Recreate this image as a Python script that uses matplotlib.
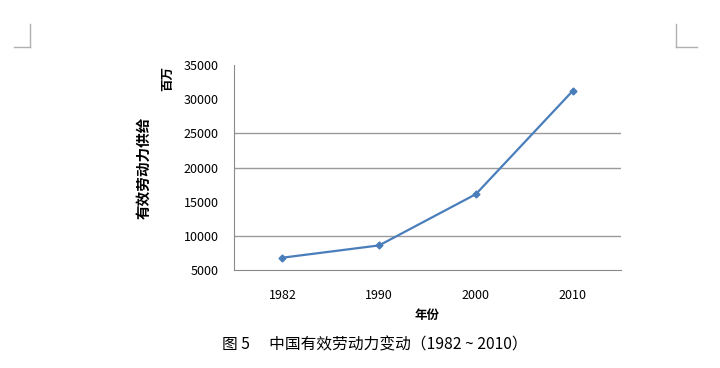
import numpy as np
import matplotlib.pyplot as plt
from matplotlib.lines import Line2D

plt.rcParams['font.family'] = ['Noto Sans CJK SC', 'DejaVu Sans']

# 数据
years = ['1982', '1990', '2000', '2010']
labor = [6800, 8600, 16100, 31200]
yticks = [5000, 10000, 15000, 20000, 25000, 30000, 35000]
grid_vals = [10000, 20000, 25000]  # 原图中可见的网格线

fig = plt.figure(figsize=(7.2, 3.68), dpi=100)
ax = fig.add_axes([0.325, 0.2663, 0.5375, 0.557])

x = np.arange(len(years))
for g in grid_vals:
    ax.axhline(g, color='#9a9a9a', lw=1.0, zorder=1)
ax.plot(x, labor, color='#4a7ebb', lw=1.6, marker='D', ms=3.5, zorder=3)

ax.set_xlim(-0.5, 3.5)
ax.set_ylim(5000, 35000)
ax.set_yticks(yticks)
ax.set_yticklabels([str(v) for v in yticks], fontsize=9)
ax.set_xticks(x)
ax.set_xticklabels(years, fontsize=9)
ax.tick_params(axis='y', length=0, pad=11)
ax.tick_params(axis='x', length=0, pad=14)
# 只在1982和2000处有刻度线
ax.set_xticks([0, 2], minor=True)
ax.tick_params(axis='x', which='minor', length=4, color='#8a8a8a')

for s in ['top', 'right']:
    ax.spines[s].set_visible(False)
for s in ['left', 'bottom']:
    ax.spines[s].set_color('#8a8a8a')

ax.set_xlabel('年份', fontsize=9, fontweight='bold', labelpad=5)
fig.text(0.199, 0.543, '有效劳动力供给', rotation=90, ha='center', va='center',
         fontsize=10.5, fontweight='bold')
fig.text(0.233, 0.788, '百万', rotation=90, ha='center', va='center',
         fontsize=9, fontweight='bold')

fig.text(0.52, 0.062, '图 5　 中国有效劳动力变动（1982 ~ 2010）', ha='center', va='center',
         fontsize=11.3)

# 页面角标
c = '#b0b0b0'
fig.add_artist(Line2D([30/720, 30/720], [1-24/368, 1-47/368], color=c, lw=1))
fig.add_artist(Line2D([14/720, 30/720], [1-47/368, 1-47/368], color=c, lw=1))
fig.add_artist(Line2D([676/720, 676/720], [1-24/368, 1-47/368], color=c, lw=1))
fig.add_artist(Line2D([676/720, 697/720], [1-47/368, 1-47/368], color=c, lw=1))

fig.savefig('out.png', dpi=100)
